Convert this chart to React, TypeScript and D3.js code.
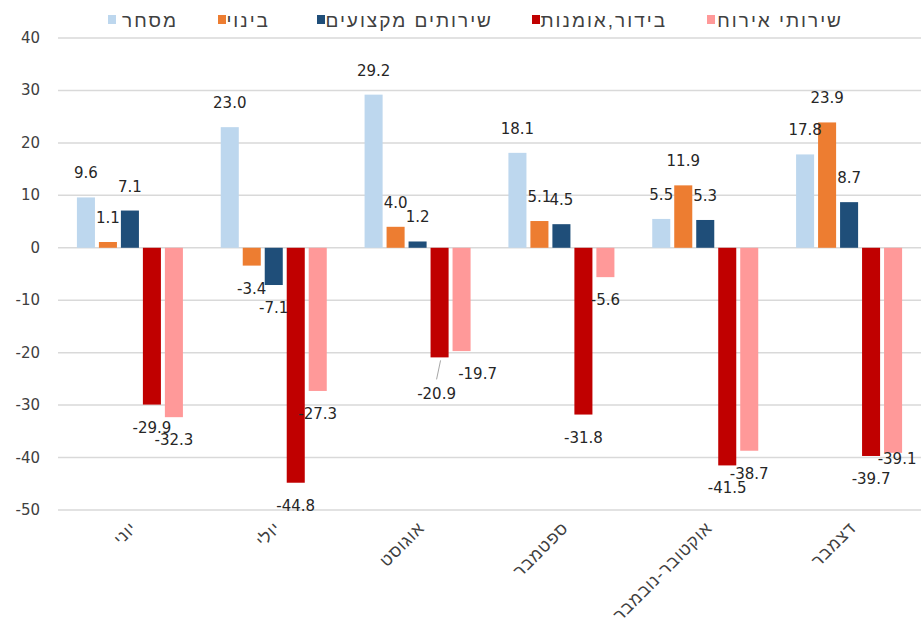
import React from "react";
import * as d3 from "d3";

const months = ["יוני", "יולי", "אוגוסט", "ספטמבר", "אוקטובר-נובמבר", "דצמבר"];
const seriesNames = ["מסחר", "בינוי", "שירותים מקצועים", "בידור,אומנות", "שירותי אירוח"];
const colours = ["#BDD7EE", "#ED7D31", "#1F4E79", "#C00000", "#FF9999"];

const commerce = [9.6, 23.0, 29.2, 18.1, 5.5, 17.8];
const construction = [1.1, -3.4, 4.0, 5.1, 11.9, 23.9];
const professional = [7.1, -7.1, 1.2, 4.5, 5.3, 8.7];
const entertainment = [-29.9, -44.8, -20.9, -31.8, -41.5, -39.7];
const hospitality = [-32.3, -27.3, -19.7, -5.6, -38.7, -39.1];
const seriesValues = [commerce, construction, professional, entertainment, hospitality];

const yTicks = [40, 30, 20, 10, 0, -10, -20, -30, -40, -50];

// hand-moved labels in the original (series index, month index) -> [dx, dy]
const labelNudge: Record<string, [number, number]> = {
  "3-2": [-3, 14],
  "4-2": [16, 0],
  "4-5": [4, -17],
};

const W = 921;
const H = 637;
const numFont = "'DejaVu Sans', sans-serif";
const hebFont = "'Liberation Sans', 'DejaVu Sans', sans-serif";

export default function App() {
  const left = 58;
  const x0 = d3.scaleBand<string>().domain(months).range([left, W]).padding(0);
  const x1 = d3
    .scaleBand<string>()
    .domain(seriesNames)
    .range([0, x0.bandwidth()])
    .paddingInner(0.18)
    .paddingOuter(0.86);
  const y = d3.scaleLinear().domain([-50, 40]).range([510, 38]);

  // legend swatch left edges and text right edges
  const legendSwatch = [108, 218, 317, 532, 707];
  const legendTextEnd = [178, 270, 493, 667, 843];

  return (
    <svg
      width={W}
      height={H}
      style={{ position: "absolute", left: 0, top: 0, background: "#fff" }}
      fontFamily={numFont}
    >
      {/* legend */}
      {seriesNames.map((s, i) => (
        <g key={s}>
          <rect x={legendSwatch[i]} y={15} width={8} height={9} fill={colours[i]} />
          <text
            x={legendTextEnd[i]}
            y={27}
            fontSize={19}
            letterSpacing={2}
            fontFamily={hebFont}
            fill="#404040"
            textAnchor="end"
          >
            {s}
          </text>
        </g>
      ))}

      {/* grid + y axis */}
      {yTicks.map((t) => (
        <g key={t}>
          <line x1={left} x2={W} y1={y(t)} y2={y(t)} stroke="#d9d9d9" strokeWidth={1.5} />
          <text x={40} y={y(t) + 5} fontSize={15} textAnchor="end" fill="#404040">
            {t}
          </text>
        </g>
      ))}

      {/* bars */}
      {months.map((m, mi) => (
        <g key={m} transform={`translate(${x0(m)},0)`}>
          {seriesNames.map((s, si) => {
            const v = seriesValues[si][mi];
            return (
              <rect
                key={s}
                x={x1(s)}
                y={Math.min(y(v), y(0))}
                width={x1.bandwidth()}
                height={Math.abs(y(v) - y(0))}
                fill={colours[si]}
              />
            );
          })}
        </g>
      ))}

      {/* data labels */}
      {months.map((m, mi) =>
        seriesNames.map((s, si) => {
          const v = seriesValues[si][mi];
          const cx = (x0(m) as number) + (x1(s) as number) + x1.bandwidth() / 2;
          const cy = v >= 0 ? y(v) - 24 : y(v) + 23;
          const [dx, dy] = labelNudge[`${si}-${mi}`] || [0, 0];
          const lead = si === 3 && mi === 2;
          return (
            <g key={`${m}-${s}`}>
              {lead && (
                <line
                  x1={cx + 1}
                  y1={y(v) + 3}
                  x2={cx - 3}
                  y2={y(v) + 22}
                  stroke="#a6a6a6"
                  strokeWidth={1}
                />
              )}
              <text
                x={cx + dx}
                y={cy + dy + 5}
                fontSize={15}
                textAnchor="middle"
                fill="#262626"
              >
                {v.toFixed(1)}
              </text>
            </g>
          );
        })
      )}

      {/* x axis labels */}
      {months.map((m) => {
        const cx = (x0(m) as number) + x0.bandwidth() / 2 + 8;
        return (
          <text
            key={m}
            transform={`translate(${cx},${529}) rotate(-45)`}
            fontSize={17}
            letterSpacing={1}
            fontFamily={hebFont}
            textAnchor="end"
            fill="#404040"
          >
            {m}
          </text>
        );
      })}
    </svg>
  );
}
